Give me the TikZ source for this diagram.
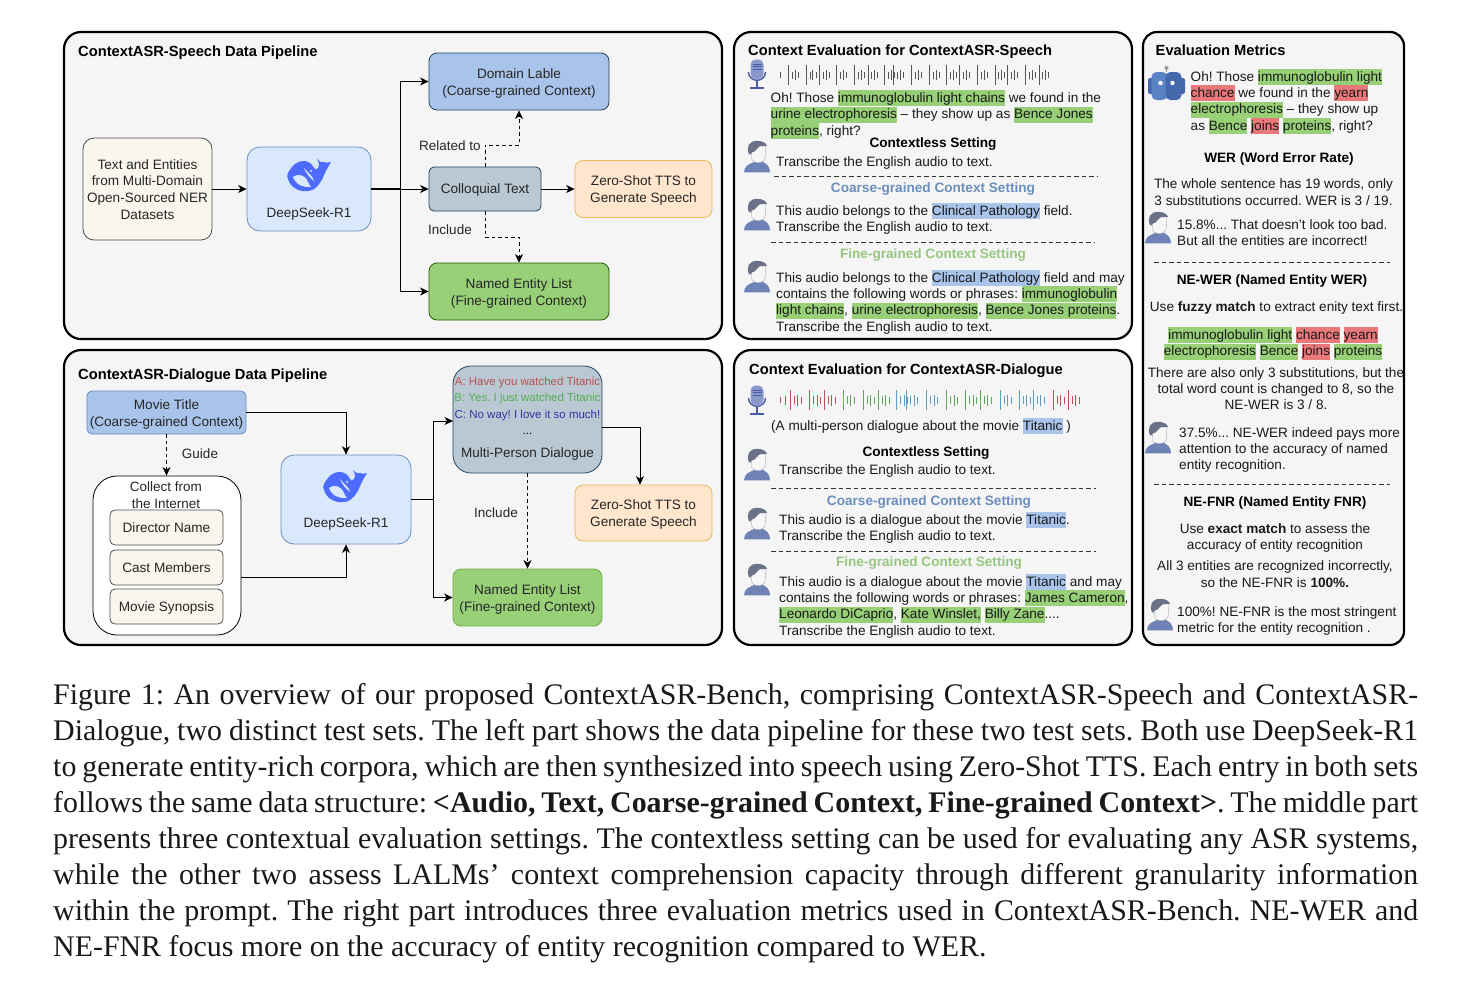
\documentclass[tikz,border=0pt]{standalone}
\usepackage{fontspec}
\setmainfont{Liberation Sans}
\newfontfamily\capfont{Liberation Serif}
\usetikzlibrary{arrows.meta}
\AtBeginDocument{\frenchspacing}
\definecolor{panelbg}{HTML}{F5F5F5}
\definecolor{hgreen}{HTML}{97D077}
\definecolor{hblue}{HTML}{A9C4EB}
\definecolor{hred}{HTML}{E8787A}
\definecolor{lblue}{HTML}{DAE8FC}
\definecolor{lblueb}{HTML}{6C8EBF}
\definecolor{beige}{HTML}{F9F7ED}
\definecolor{orangef}{HTML}{FFE6CC}
\definecolor{orangeb}{HTML}{E8B85A}
\definecolor{slate}{HTML}{BAC8D3}
\definecolor{slateb}{HTML}{23445D}
\definecolor{darkg}{HTML}{2D7600}
\definecolor{whale}{HTML}{4D6BFE}
\definecolor{iconblue}{HTML}{6F82B5}
\definecolor{iconhair}{HTML}{6B7287}
\definecolor{coarsec}{HTML}{6C8EBF}
\definecolor{finec}{HTML}{97C77F}
\definecolor{waveg}{HTML}{555555}
\definecolor{wred}{HTML}{B85450}
\definecolor{wgreen}{HTML}{5FA55A}
\definecolor{wblue}{HTML}{5B9BBF}
\definecolor{robotl}{HTML}{5B82C4}
\definecolor{robotr}{HTML}{4568AD}
\definecolor{micbody}{HTML}{8A98CC}
\definecolor{micdark}{HTML}{4A5CA0}
\newcommand\hlbox[2]{\begingroup\fboxsep=0pt\colorbox{#1}{\rule[-3.8pt]{0pt}{16pt}#2}\endgroup}
\newcommand\hg[1]{\hlbox{hgreen}{#1}}
\newcommand\hb[1]{\hlbox{hblue}{#1}}
\newcommand\hr[1]{\hlbox{hred}{#1}}
\newcommand\capln[1]{\makebox[1365pt][s]{#1}}
\newcommand\tstrut{\rule[-3.8pt]{0pt}{16pt}}
\newcommand\fstrut{\rule[-3.8pt]{0pt}{17.5pt}}
\newcommand\flines[1]{\raisebox{-2pt}[\height][\depth]{\begin{tabular}{@{}c@{}}#1\end{tabular}}}
\tikzset{
 x=1pt,y=-1pt,
 tline/.style={execute at begin node=\tstrut,execute at end node=\tstrut},
 panel/.style={draw=black,line width=2.2pt,fill=panelbg,rounded corners=17pt,inner sep=0pt},
 flowbase/.style={rounded corners=8pt,inner sep=0pt,align=center,line width=.8pt,font=\fontsize{13.6}{16.8}\selectfont,text=black!85},
 flow/.style={flowbase,execute at begin node=\fstrut,execute at end node=\tstrut},
 domainbox/.style={flow,draw=slateb,fill=hblue},
 entitybox/.style={flow,draw=darkg!80!black,fill=hgreen},
 colloq/.style={flowbase,tline,draw=slateb,fill=slate},
 ttsbox/.style={flow,draw=orangeb,fill=orangef},
 beigebox/.style={flow,draw=black!70,fill=beige},
 dsbox/.style={flowbase,draw=lblueb,fill=lblue,rounded corners=13pt},
 collectbox/.style={flowbase,draw=black,fill=white,rounded corners=24pt},
 paneltitle/.style={tline,yshift=-1pt,anchor=west,inner sep=0pt,font=\fontsize{14.7}{16}\bfseries\selectfont},
 body/.style={tline,yshift=-1pt,anchor=west,inner sep=0pt,align=left,font=\fontsize{13.6}{16.4}\selectfont,text=black!90},
 bodyc/.style={tline,yshift=-1pt,inner sep=0pt,align=center,font=\fontsize{13.6}{16.4}\selectfont,text=black!90},
 head/.style={tline,yshift=-1pt,inner sep=0pt,font=\fontsize{13.6}{16}\bfseries\selectfont},
 lab/.style={tline,yshift=-1pt,inner sep=0pt,align=center,font=\fontsize{13.5}{16.4}\selectfont,text=black!85},
 diatext/.style={tline,inner sep=0pt,font=\fontsize{11.5}{12}\selectfont},
 arr/.style={line width=1pt,-{Stealth[length=8.5pt,width=8pt,inset=2.5pt]}},
 plain/.style={line width=1pt},
 dasharr/.style={arr,dash pattern=on 3.5pt off 3pt},
 sep/.style={line width=.8pt,dash pattern=on 4.5pt off 3pt,draw=black!80},
 personicon/.pic={
   \begin{scope}[yscale=.85]
   \fill[iconblue] (-13,18) .. controls (-13,10) and (-7,8) .. (-3,6) -- (5,5) .. controls (9,8) and (13,10) .. (13,18) -- cycle;
   \filldraw[fill=black!3,draw=iconhair!60,line width=.4pt] (-6,-12) -- (9,-13) -- (8,2) .. controls (5,8) and (0,8) .. (-5,4) -- cycle;
   \fill[iconhair] (-8,-3) .. controls (-11,-12) and (-8,-19) .. (0,-19) .. controls (5,-19) and (9,-17) .. (10,-13) -- (3,-13) .. controls (1,-10) and (-2,-8) .. (-3,-6) .. controls (-5,-7) and (-6,-2) .. (-8,-3) -- cycle;
   \end{scope}
 },
 micicon/.pic={
   \draw[line width=1.4pt,draw=micdark] (-8.5,-2) .. controls (-8.5,9) and (8.5,9) .. (8.5,-2);
   \fill[micbody,rounded corners=5pt] (-6.5,-14.5) rectangle (6.5,5);
   \foreach \yy in {-10,-7.5,-5}{\draw[micdark,line width=.6pt] (-4.5,\yy) -- (4.5,\yy);}
   \draw[micdark,line width=1.6pt] (0,6.5) -- (0,13.5);
   \draw[micdark,line width=1.7pt] (-7,14) -- (7,14);
 },
 roboticon/.pic={
   \fill[black!40] (0,-18) circle (2pt);
   \draw[black!40,line width=1.2pt] (0,-18) -- (0,-14);
   \fill[robotr,rounded corners=2pt] (-18.5,-8) rectangle (18.5,8);
   \fill[robotl,rounded corners=5pt] (-15,-14) rectangle (1,14);
   \fill[robotr,rounded corners=5pt] (-1,-14) rectangle (15,14);
   \fill[white] (-6,-3) circle (2.2pt) (6,-3) circle (2.2pt);
 },
 whaleicon/.pic={
   \fill[whale] plot[smooth cycle,tension=.65] coordinates {(-20,-3) (-13,-12) (-5,-15) (2,-13) (8,-6) (13,-5) (14,3) (6,13) (-5,15) (-15,11) (-20,3)};
   \fill[whale] (7,-6) .. controls (12,-8) and (12,-12) .. (9,-17) .. controls (12,-14) and (14,-13) .. (16,-14) .. controls (18,-13) and (20,-13) .. (23,-14) .. controls (20,-9) and (17,-4) .. (14,4) -- cycle;
   \fill[lblue] (-15,1) .. controls (-9,-3) and (-3,-1) .. (0,6) .. controls (1,8) and (2,10) .. (3,11) .. controls (-4,12) and (-12,9) .. (-15,1) -- cycle;
   \fill[lblue] (-4,-8) .. controls (0,-3) and (5,0) .. (6,5) .. controls (2,2) and (-2,-3) .. (-4,-8) -- cycle;
   \fill[lblue] (3,-5) circle (1.2pt);
 },
}
\begin{document}
\begin{tikzpicture}
\useasboundingbox (0,0) rectangle (1470,994);
\fill[white] (0,0) rectangle (1470,994);
% panels
\node[panel,minimum width=658pt,minimum height=307pt] (p1) at (393,185.5) {};
\node[panel,minimum width=658pt,minimum height=295pt] (p2) at (393,497.5) {};
\node[panel,minimum width=398pt,minimum height=307pt] (p3) at (933,185.5) {};
\node[panel,minimum width=398pt,minimum height=295pt] (p4) at (933,497.5) {};
\node[panel,minimum width=261pt,minimum height=613pt,rounded corners=14pt] (p5) at (1273.5,338.5) {};
\node[paneltitle] (t1) at (78,51) {ContextASR-Speech Data Pipeline};
\node[paneltitle] (t2) at (78,374) {ContextASR-Dialogue Data Pipeline};
\node[paneltitle] (t3) at (748,50) {Context Evaluation for ContextASR-Speech};
\node[paneltitle] (t4) at (749,369) {Context Evaluation for ContextASR-Dialogue};
\node[paneltitle] (t5) at (1155.5,50) {Evaluation Metrics};
% pipeline 1
\node[domainbox,minimum width=180pt,minimum height=57pt] (dom) at (519,81.5) {\flines{Domain Lable\\(Coarse-grained Context)}};
\node[beigebox,minimum width=129pt,minimum height=102pt,rounded corners=11pt] (src) at (147.5,189) {\flines{Text and Entities\\from Multi-Domain\\Open-Sourced NER\\Datasets}};
\node[dsbox,minimum width=124pt,minimum height=84pt] (ds1) at (309,189) {};
\pic at (308,176) {whaleicon};
\node[lab] (ds1t) at (309,212) {DeepSeek-R1};
\node[colloq,minimum width=112pt,minimum height=44pt,rounded corners=5pt] (col) at (485,189) {Colloquial Text};
\node[ttsbox,minimum width=137pt,minimum height=57pt] (tts1) at (643.5,189) {\flines{Zero-Shot TTS to\\Generate Speech}};
\node[entitybox,minimum width=180pt,minimum height=57pt] (ent1) at (519,291.5) {\flines{Named Entity List\\(Fine-grained Context)}};
\node[lab] (rel) at (450,145) {Related to};
\node[lab] (inc1) at (450,229) {Include};
\coordinate (b1) at (400,189);
\coordinate (u1) at (485,145);
\coordinate (u2) at (485,237);
\draw[arr] (src.east) -- (ds1.west);
\draw[arr] (ds1.east) -- (col.west);
\draw[plain,line width=1.5pt] (ds1.east) -- (b1);
\draw[arr] (b1) |- (dom.west);
\draw[arr] (b1) |- (ent1.west);
\draw[arr] (col.east) -- (tts1.west);
\draw[dasharr] (col.north) -- (u1) -| (dom.south);
\draw[dasharr] (col.south) -- (u2) -| (ent1.north);
% pipeline 2
\node[domainbox,minimum width=159pt,minimum height=43pt,rounded corners=5pt,draw=lblueb] (mov) at (166.5,412.5) {\flines{Movie Title\\(Coarse-grained Context)}};
\node[collectbox,minimum width=148pt,minimum height=159pt] (coll) at (167,555.5) {};
\node[lab] (colt) at (166,496) {Collect from\\the Internet};
\node[beigebox,minimum width=113pt,minimum height=35pt,rounded corners=5pt] (dir) at (166.5,527.5) {Director Name};
\node[beigebox,minimum width=113pt,minimum height=35pt,rounded corners=5pt] (cast) at (166.5,567.5) {Cast Members};
\node[beigebox,minimum width=113pt,minimum height=35pt,rounded corners=5pt] (syn) at (166.5,606.5) {Movie Synopsis};
\node[dsbox,minimum width=130pt,minimum height=89pt] (ds2) at (346,499.5) {};
\pic at (344,487) {whaleicon};
\node[lab] (ds2t) at (346,522) {DeepSeek-R1};
\node[flowbase,draw=slateb,fill=slate,minimum width=149pt,minimum height=107pt,rounded corners=18pt] (dia) at (527.5,419.5) {};
\node[diatext,text=wred] (la) at (527.5,381) {A: Have you watched Titanic};
\node[diatext,text=wgreen!90!green] (lb) at (527.5,397) {B: Yes. I just watched Titanic};
\node[diatext,text=blue!55!black!80!white] (lc) at (527.5,414) {C: No way! I love it so much!};
\node[diatext] (ld) at (527.5,430) {...};
\node[lab] (ldm) at (527.5,452.5) {Multi-Person Dialogue};
\node[ttsbox,minimum width=137pt,minimum height=56pt] (tts2) at (643.5,513) {\flines{Zero-Shot TTS to\\Generate Speech}};
\node[entitybox,draw=darkg!40!hgreen,minimum width=149pt,minimum height=57pt] (ent2) at (527.5,597.5) {\flines{Named Entity List\\(Fine-grained Context)}};
\node[lab] (gd) at (200,453) {Guide};
\node[lab] (inc2) at (496,512) {Include};
\coordinate (c1) at (346,412.5);
\coordinate (c2) at (346,577);
\coordinate (c3) at (433,499.5);
\coordinate (c4) at (640,427);
\coordinate (c5) at (602,427);
\coordinate (c6) at (241,577);
\coordinate (c7) at (453,421);
\draw[arr] (mov.east) -- (c1) -- (ds2.north);
\draw[arr] (c6) -- (c2) -- (ds2.south);
\draw[plain] (ds2.east) -- (c3);
\draw[arr] (c3) |- (c7);
\draw[arr] (c3) |- (ent2.west);
\draw[arr] (c5) -- (c4) -- (tts2.north -| c4);
\draw[dasharr] (dia.south) -- (ent2.north);
\draw[dasharr] (mov.south) -- (coll.north -| mov.south);
% panel 3
\pic at (757,74) {micicon};
\draw[waveg,line width=.7pt] (780,72) -- (780,78);
\foreach \v in {45,104,148,205,265,310,365,395,455,515,572,615,675,733,775,835,880}{
  \pgfmathsetmacro\xx{780+(\v-16)/3*.9}
  \draw[waveg,line width=.8pt] (\xx,65) -- (\xx,85);
  \draw[waveg,line width=.7pt] (\xx+3.5,71.5) -- (\xx+3.5,78.5);
  \draw[waveg,line width=.9pt] (\xx+6.5,70) -- (\xx+6.5,80);
  \draw[waveg,line width=.7pt] (\xx+9.5,72) -- (\xx+9.5,78);
}
\node[body] (s1) at (770.5,113.5) {Oh! Those \hg{immunoglobulin light chains} we found in the\\\hg{urine electrophoresis} – they show up as \hg{Bence Jones}\\\hg{proteins}, right?};
\node[head] (s2) at (933,142.5) {Contextless Setting};
\pic at (757,157) {personicon};
\node[body] (s3) at (776,161) {Transcribe the English audio to text.};
\coordinate (d1a) at (774,176); \coordinate (d1b) at (1098,176);
\draw[sep] (d1a) -- (d1b);
\node[head,text=coarsec] (s4) at (933,187.5) {Coarse-grained Context Setting};
\pic at (757,215) {personicon};
\node[body] (s5) at (776,218.5) {This audio belongs to the \hb{Clinical Pathology} field.\\Transcribe the English audio to text.};
\coordinate (d2a) at (771,242); \coordinate (d2b) at (1095,242);
\draw[sep] (d2a) -- (d2b);
\node[head,text=finec] (s6) at (933,253.5) {Fine-grained Context Setting};
\pic at (757,277) {personicon};
\node[body] (s7) at (776,301.5) {This audio belongs to the \hb{Clinical Pathology} field and may\\contains the following words or phrases: \hg{immunoglobulin}\\\hg{light chains}, \hg{urine electrophoresis}, \hg{Bence Jones proteins}.\\Transcribe the English audio to text.};
% panel 4
\pic at (757,400) {micicon};
\draw[wred,line width=.7pt] (780,397) -- (780,403);
\draw[wred,line width=.7pt] (785,395.5) -- (785,404.5);
\foreach \v/\wc in {45/wred,104/wred,148/wred,205/wgreen,265/wgreen,310/wgreen,365/wblue,395/wblue,455/wblue,515/wgreen,572/wgreen,615/wgreen,675/wblue,733/wblue,775/wblue,835/wred,880/wred}{
  \pgfmathsetmacro\xx{775+\v/3}
  \draw[\wc,line width=.8pt] (\xx,390) -- (\xx,410);
  \draw[\wc,line width=.7pt] (\xx+4,396) -- (\xx+4,404);
  \draw[\wc,line width=.9pt] (\xx+7.5,394.5) -- (\xx+7.5,405.5);
  \draw[\wc,line width=.7pt] (\xx+11,396.5) -- (\xx+11,403.5);
}
\node[body] (q1) at (771,425) {(A multi-person dialogue about the movie \hb{Titanic} )};
\node[head] (q2) at (926,451) {Contextless Setting};
\pic at (757,465) {personicon};
\node[body] (q3) at (779,469) {Transcribe the English audio to text.};
\coordinate (d3a) at (771,488); \coordinate (d3b) at (1096,488);
\draw[sep] (d3a) -- (d3b);
\node[head,text=coarsec] (q4) at (929,500.5) {Coarse-grained Context Setting};
\pic at (757,524) {personicon};
\node[body] (q5) at (779,527.5) {This audio is a dialogue about the movie \hb{Titanic}.\\Transcribe the English audio to text.};
\coordinate (d4a) at (771,551); \coordinate (d4b) at (1096,551);
\draw[sep] (d4a) -- (d4b);
\node[head,text=finec] (q6) at (929,561.5) {Fine-grained Context Setting};
\pic at (757,580) {personicon};
\node[body] (q7) at (779,605.5) {This audio is a dialogue about the movie \hb{Titanic} and may\\contains the following words or phrases: \hg{James Cameron},\\\hg{Leonardo DiCaprio}, \hg{Kate Winslet,} \hg{Billy Zane}....\\Transcribe the English audio to text.};
% panel 5
\pic at (1166.5,86) {roboticon};
\node[body] (m1) at (1190.5,100.5) {Oh! Those \hg{immunoglobulin light}\\\hr{chance} we found in the \hr{yearn}\\\hg{electrophoresis} – they show up\\as \hg{Bence} \hr{joins} \hg{proteins}, right?};
\node[head] (m2) at (1279,157.5) {WER (Word Error Rate)};
\node[bodyc] (m3) at (1273.5,193) {The whole sentence has 19 words, only\\3 substitutions occurred. WER is 3 / 19.};
\pic at (1158,228) {personicon};
\node[body] (m4) at (1177,233.5) {15.8\%... That doesn't look too bad.\\But all the entities are incorrect!};
\coordinate (d5a) at (1154,262); \coordinate (d5b) at (1390,262);
\draw[sep] (d5a) -- (d5b);
\node[head] (m5) at (1272,279.5) {NE-WER (Named Entity WER)};
\node[bodyc] (m6) at (1276.5,306) {Use \textbf{fuzzy match} to extract enity text first.};
\node[bodyc] (m7) at (1273,342.5) {\hg{immunoglobulin light} \hr{chance} \hr{yearn}\\\hg{electrophoresis} \hg{Bence} \hr{joins} \hg{proteins}};
\node[bodyc] (m8) at (1276,389.5) {There are also only 3 substitutions, but the\\total word count is changed to 8, so the\\NE-WER is 3 / 8.};
\pic at (1158,438) {personicon};
\node[body] (m9) at (1179,449.5) {37.5\%... NE-WER indeed pays more\\attention to the accuracy of named\\entity recognition.};
\coordinate (d6a) at (1154,484); \coordinate (d6b) at (1390,484);
\draw[sep] (d6a) -- (d6b);
\node[head] (m10) at (1275,501.5) {NE-FNR (Named Entity FNR)};
\node[bodyc] (m11) at (1275,537.5) {Use \textbf{exact match} to assess the\\accuracy of entity recognition};
\node[bodyc] (m12) at (1275,575) {All 3 entities are recognized incorrectly,\\so the NE-FNR is \textbf{100\%.}};
\pic at (1160,615) {personicon};
\node[body] (m13) at (1177,620.5) {100\%! NE-FNR is the most stringent\\metric for the entity recognition .};
% caption
\node[anchor=west,inner sep=0pt,align=left,font=\capfont\fontsize{29.9}{36}\selectfont,text=black!90] (cap) at (53,823.5) {%
\capln{Figure 1: An overview of our proposed ContextASR-Bench, comprising ContextASR-Speech and ContextASR-}\\
\capln{Dialogue, two distinct test sets. The left part shows the data pipeline for these two test sets. Both use DeepSeek-R1}\\
\capln{to generate entity-rich corpora, which are then synthesized into speech using Zero-Shot TTS. Each entry in both sets}\\
\capln{follows the same data structure: \textbf{<Audio, Text, Coarse-grained Context, Fine-grained Context>}. The middle part}\\
\capln{presents three contextual evaluation settings. The contextless setting can be used for evaluating any ASR systems,}\\
\capln{while the other two assess LALMs’ context comprehension capacity through different granularity information}\\
\capln{within the prompt. The right part introduces three evaluation metrics used in ContextASR-Bench. NE-WER and}\\
NE-FNR focus more on the accuracy of entity recognition compared to WER.};
\end{tikzpicture}
\end{document}
